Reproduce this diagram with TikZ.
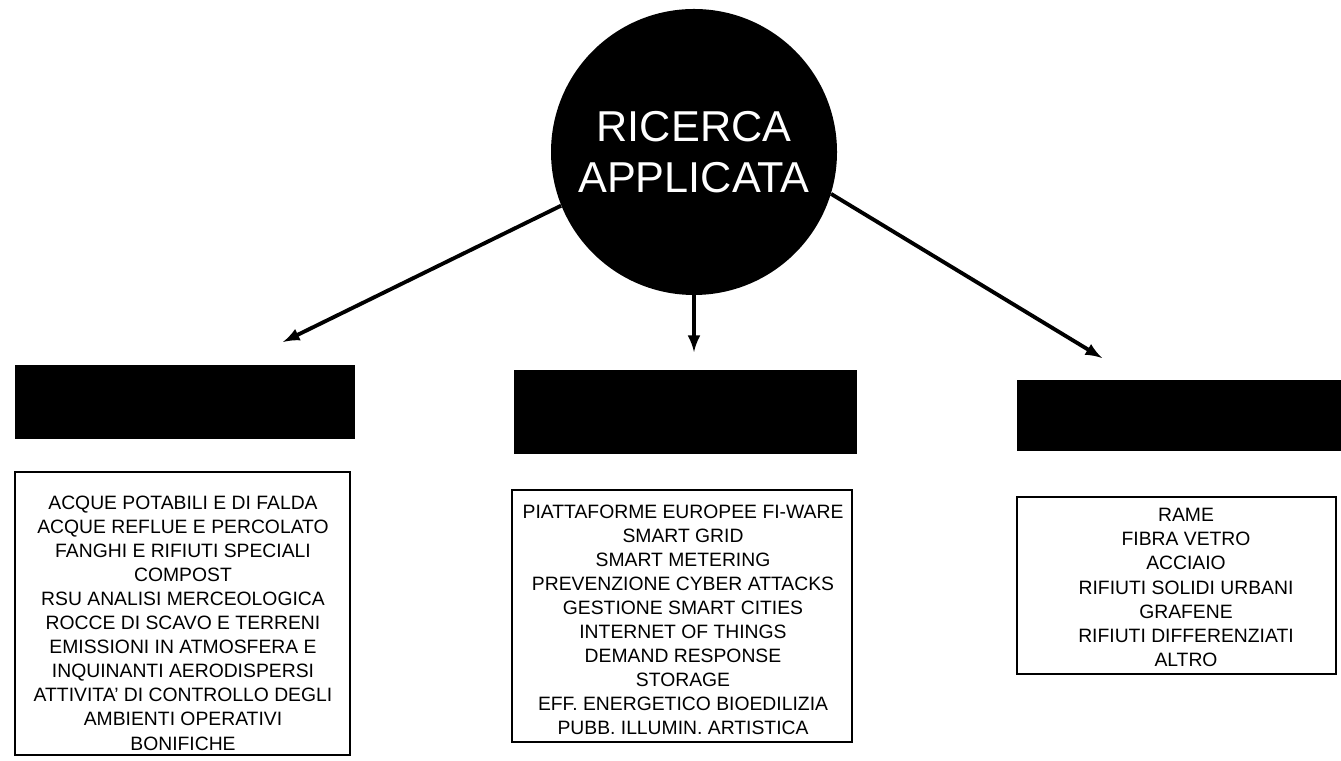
\documentclass[tikz,border=0pt]{standalone}
\usepackage{fontspec}
\setmainfont{Liberation Sans}
\usepackage{tikz}
\usetikzlibrary{shapes}
\usetikzlibrary{arrows}
\usetikzlibrary{positioning}

\tikzset{
  hub/.style={circle, fill=black, text=white, inner sep=0pt, minimum size=5.72cm,
    align=center, font=\fontsize{24.6}{29}\selectfont},
  headbox/.style={rectangle, fill=black, draw=black, inner sep=0pt, outer sep=0pt},
  listframe/.style={draw=black, line width=1pt},
  listtext/.style={inner sep=0pt, align=center, font=\fontsize{11}{13.7}\selectfont},
  branch/.style={line width=2.2pt, -latex}
}

\begin{document}
\begin{tikzpicture}
\useasboundingbox (0,0) rectangle (26.82,15.22);

%centre circle
\node[hub] (hub) at (13.88,12.18) {RICERCA\\APPLICATA};

%arrow ends
\coordinate (tipL) at (5.66,8.38);
\coordinate (tipM) at (13.88,8.18);
\coordinate (tipR) at (22.04,8.06);

\draw[branch] (hub.202) -- (tipL);
\draw[branch] (hub) -- (tipM);
\draw[branch] (hub.-17) -- (tipR);

%black headers
\node[headbox, minimum width=6.78cm, minimum height=1.46cm] (headL) at (3.69,7.19) {};
\node[headbox, minimum width=6.84cm, minimum height=1.66cm] (headM) at (13.70,6.99) {};
\node[headbox, minimum width=6.48cm, minimum height=1.40cm] (headR) at (23.58,6.92) {};

%list frames
\draw[listframe] (0.3,0.12) rectangle (7.0,5.78);
\draw[listframe] (10.24,0.38) rectangle (17.04,5.42);
\draw[listframe] (20.34,1.74) rectangle (26.72,5.28);

%lists
\node[listtext] (listL) at (3.66,2.76) {%
ACQUE POTABILI E DI FALDA\\
ACQUE REFLUE E PERCOLATO\\
FANGHI E RIFIUTI SPECIALI\\
COMPOST\\
RSU ANALISI MERCEOLOGICA\\
ROCCE DI SCAVO E TERRENI\\
EMISSIONI IN ATMOSFERA E\\
INQUINANTI AERODISPERSI\\
ATTIVITA' DI CONTROLLO DEGLI\\
AMBIENTI OPERATIVI\\
BONIFICHE};

\node[listtext] (listM) at (13.66,2.82) {%
PIATTAFORME EUROPEE FI-WARE\\
SMART GRID\\
SMART METERING\\
PREVENZIONE CYBER ATTACKS\\
GESTIONE SMART CITIES\\
INTERNET OF THINGS\\
DEMAND RESPONSE\\
STORAGE\\
EFF. ENERGETICO BIOEDILIZIA\\
PUBB. ILLUMIN. ARTISTICA};

\node[listtext] (listR) at (23.72,3.47) {%
RAME\\
FIBRA VETRO\\
ACCIAIO\\
RIFIUTI SOLIDI URBANI\\
GRAFENE\\
RIFIUTI DIFFERENZIATI\\
ALTRO};

\end{tikzpicture}
\end{document}
